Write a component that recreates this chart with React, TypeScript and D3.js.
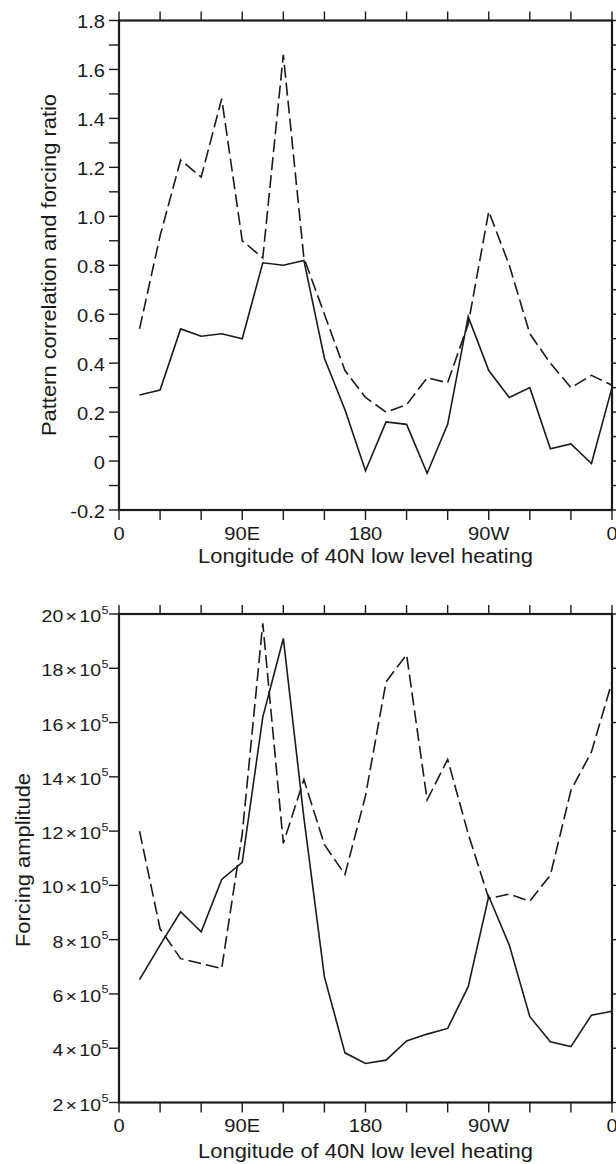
import React from "react";
import * as d3 from "d3";

// longitudes of the 40N low-level heating (degrees east)
const longitudes = [15, 30, 45, 60, 75, 90, 105, 120, 135, 150, 165, 180, 195, 210, 225, 240, 255, 270, 285, 300, 315, 330, 345, 360];

// top panel
const patternCorrelation = [0.27, 0.29, 0.54, 0.51, 0.52, 0.50, 0.81, 0.80, 0.82, 0.42, 0.21, -0.04, 0.16, 0.15, -0.05, 0.15, 0.59, 0.37, 0.26, 0.30, 0.05, 0.07, -0.01, 0.30];
const forcingRatio = [0.54, 0.92, 1.23, 1.16, 1.48, 0.90, 0.83, 1.66, 0.83, 0.60, 0.37, 0.26, 0.20, 0.23, 0.34, 0.32, 0.56, 1.02, 0.80, 0.52, 0.40, 0.30, 0.35, 0.31];

// bottom panel (x 10^5)
const amplitudeSolid = [6.53, 7.8, 9.03, 8.29, 10.22, 10.85, 16.2, 19.1, 12.5, 6.63, 3.83, 3.44, 3.56, 4.27, 4.52, 4.73, 6.27, 9.6, 7.8, 5.16, 4.24, 4.06, 5.22, 5.36];
const amplitudeDashed = [12.0, 8.4, 7.3, 7.12, 6.94, 11.9, 19.66, 11.55, 13.9, 11.5, 10.4, 13.3, 17.5, 18.5, 13.15, 14.64, 11.9, 9.52, 9.68, 9.42, 10.38, 13.5, 14.92, 17.5];

const xTickValues = [0, 30, 60, 90, 120, 150, 180, 210, 240, 270, 300, 330, 360];
const xLabelValues = [0, 90, 180, 270, 360];
const xLabelTexts = ["0", "90E", "180", "90W", "0"];
const topYLabels = [-0.2, 0, 0.2, 0.4, 0.6, 0.8, 1.0, 1.2, 1.4, 1.6, 1.8];
const bottomYLabels = [2, 4, 6, 8, 10, 12, 14, 16, 18, 20];

const W = 616;
const H = 1164;
const FONT = "'Liberation Sans', Arial, Helvetica, sans-serif";
const X0 = 119;
const X1 = 612;
const SX = 1.15; // horizontal stretch of tick labels
const TSX = 1.095; // horizontal stretch of titles
const INK = "#1a1a1a";

function fmtTop(v: number) {
  if (Math.abs(v) < 1e-9) return "0";
  return v.toFixed(1);
}

type PanelProps = {
  yScale: d3.ScaleLinear<number, number>;
  majorTicks: number[];
  minorTicks: number[];
  solid: number[];
  dashed: number[];
  yTitle: string;
  yTitleX: number;
  yTitleY: number;
  xLabelY: number;
  xTitleY: number;
  sup: boolean;
};

function Panel(p: PanelProps) {
  const x = d3.scaleLinear().domain([0, 360]).range([X0, X1]);
  const y = p.yScale;
  const [yb, yt] = y.range();
  const line = d3
    .line<number>()
    .x((_, i) => x(longitudes[i]))
    .y((d) => y(d));
  const tick = 10;
  return (
    <g>
      {/* lines */}
      <path d={line(p.solid) || ""} fill="none" stroke={INK} strokeWidth={1.6} />
      <path d={line(p.dashed) || ""} fill="none" stroke={INK} strokeWidth={1.6} strokeDasharray="13,5" />
      {/* frame */}
      <rect x={X0} y={yt} width={X1 - X0} height={yb - yt} fill="none" stroke={INK} strokeWidth={2.2} />
      {/* x ticks top and bottom */}
      {xTickValues.map((v) => (
        <g key={"xt" + v}>
          <line x1={x(v)} x2={x(v)} y1={yt} y2={yt - 9} stroke={INK} strokeWidth={1.4} />
          <line x1={x(v)} x2={x(v)} y1={yb} y2={yb + tick} stroke={INK} strokeWidth={1.4} />
        </g>
      ))}
      {/* y ticks */}
      {p.minorTicks.concat(p.majorTicks).map((v, i) => (
        <g key={"yt" + i}>
          <line x1={X0} x2={X0 - tick} y1={y(v)} y2={y(v)} stroke={INK} strokeWidth={1.4} />
          <line x1={X1} x2={X1 + tick} y1={y(v)} y2={y(v)} stroke={INK} strokeWidth={1.4} />
        </g>
      ))}
      {/* y labels */}
      {p.majorTicks.map((v) =>
        p.sup ? (
          <g key={"yl" + v}>
            <text
              transform={`translate(101,${y(v) + 8}) scale(${SX},1)`}
              textAnchor="end"
              fontFamily={FONT}
              fontSize={17}
              fill={INK}
            >
              {`${v}`}
              <tspan dx={2}>×</tspan>
              <tspan dx={2}>10</tspan>
            </text>
            <text
              transform={`translate(101.5,${y(v) - 0.5}) scale(${SX},1)`}
              fontFamily={FONT}
              fontSize={11}
              fill={INK}
            >
              5
            </text>
          </g>
        ) : (
          <text
            key={"yl" + v}
            transform={`translate(105,${y(v) + 7.5}) scale(${SX},1)`}
            textAnchor="end"
            fontFamily={FONT}
            fontSize={17.5}
            fill={INK}
          >
            {fmtTop(v)}
          </text>
        )
      )}
      {/* x labels */}
      {xLabelValues.map((v, i) => (
        <text
          key={"xl" + i}
          transform={`translate(${x(v)},${p.xLabelY}) scale(${SX},1)`}
          textAnchor="middle"
          fontFamily={FONT}
          fontSize={17.5}
          fill={INK}
        >
          {xLabelTexts[i]}
        </text>
      ))}
      <text
        transform={`translate(${(X0 + X1) / 2},${p.xTitleY}) scale(${TSX},1)`}
        textAnchor="middle"
        fontFamily={FONT}
        fontSize={20}
        fill={INK}
      >
        Longitude of 40N low level heating
      </text>
      <text
        transform={`translate(${p.yTitleX},${p.yTitleY}) rotate(-90) scale(${TSX},1)`}
        textAnchor="middle"
        fontFamily={FONT}
        fontSize={20}
        fill={INK}
      >
        {p.yTitle}
      </text>
    </g>
  );
}

export default function App() {
  const yTop = d3.scaleLinear().domain([-0.2, 1.8]).range([510, 20.5]);
  const yBottom = d3.scaleLinear().domain([2, 20]).range([1102.5, 614]);
  const topMinor = d3.range(-0.1, 1.8, 0.2).map((v) => Math.round(v * 10) / 10);
  return (
    <svg width={W} height={H} style={{ position: "absolute", left: 0, top: 0, background: "#fff" }}>
      <rect width={W} height={H} fill="#fff" />
      <Panel
        yScale={yTop}
        majorTicks={topYLabels}
        minorTicks={topMinor}
        solid={patternCorrelation}
        dashed={forcingRatio}
        yTitle="Pattern correlation and forcing ratio"
        yTitleX={56}
        yTitleY={265}
        xLabelY={540}
        xTitleY={563}
        sup={false}
      />
      <Panel
        yScale={yBottom}
        majorTicks={bottomYLabels}
        minorTicks={[]}
        solid={amplitudeSolid}
        dashed={amplitudeDashed}
        yTitle="Forcing amplitude"
        yTitleX={29.5}
        yTitleY={860}
        xLabelY={1132}
        xTitleY={1158}
        sup={true}
      />
    </svg>
  );
}
